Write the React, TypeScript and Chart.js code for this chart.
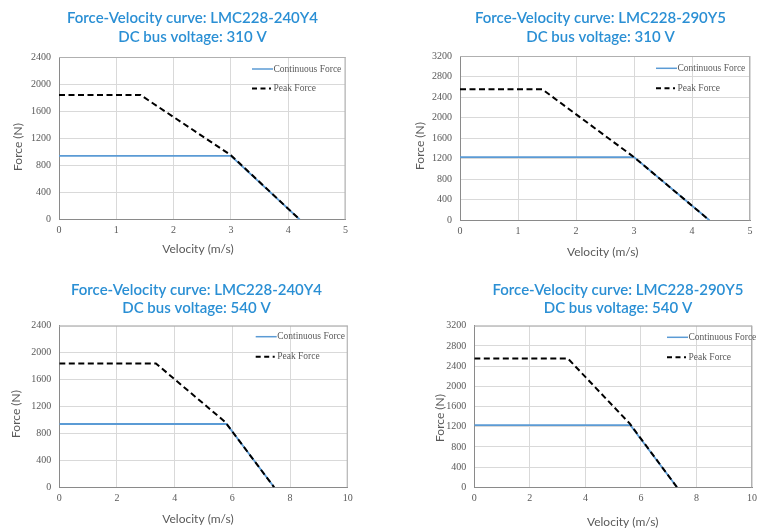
import React, { useEffect, useRef } from "react";
import { Chart, registerables } from "chart.js";

Chart.register(...registerables);

// ---------- data ----------
const modelNames = ["LMC228-240Y4", "LMC228-290Y5", "LMC228-240Y4", "LMC228-290Y5"];
const busVoltages = ["310 V", "310 V", "540 V", "540 V"];
const legendLabels = ["Continuous Force", "Peak Force"];
const xAxisLabel = "Velocity (m/s)";
const yAxisLabel = "Force (N)";
const xMaxValues = [5, 5, 10, 10];
const xStepValues = [1, 1, 2, 2];
const yMaxValues = [2400, 3200, 2400, 3200];
const yStepValue = 400;

const contVel1 = [0, 3, 4.2];
const contForce1 = [940, 940, 0];
const peakVel1 = [0, 1.42, 3, 4.2];
const peakForce1 = [1840, 1840, 950, 0];

const contVel2 = [0, 3, 4.3];
const contForce2 = [1230, 1230, 0];
const peakVel2 = [0, 1.42, 3, 4.3];
const peakForce2 = [2550, 2550, 1230, 0];

const contVel3 = [0, 5.8, 7.45];
const contForce3 = [940, 940, 0];
const peakVel3 = [0, 3.35, 5.75, 7.45];
const peakForce3 = [1840, 1840, 970, 0];

const contVel4 = [0, 5.62, 7.3];
const contForce4 = [1230, 1230, 0];
const peakVel4 = [0, 3.37, 5.6, 7.3];
const peakForce4 = [2550, 2550, 1260, 0];

const contVels = [contVel1, contVel2, contVel3, contVel4];
const contForces = [contForce1, contForce2, contForce3, contForce4];
const peakVels = [peakVel1, peakVel2, peakVel3, peakVel4];
const peakForces = [peakForce1, peakForce2, peakForce3, peakForce4];

// ---------- layout (page coordinates) ----------
const panels = [
  { box: [0, 0, 381, 265], area: [59, 57, 345.5, 219.5], title: [192.5, 18.3, 36.7], xT: [198, 249], yT: [18, 147], leg: [252, 69, 88.5] },
  { box: [381, 0, 381, 265], area: [460, 56, 750, 220.3], title: [600.5, 18.3, 36.7], xT: [602.7, 251.7], yT: [420.3, 146], leg: [656, 68.3, 88.3] },
  { box: [0, 265, 381, 264], area: [59.3, 325.7, 347.7, 487.3], title: [196.5, 290, 308.3], xT: [198, 519], yT: [16, 414], leg: [255.7, 336.7, 356.7] },
  { box: [381, 265, 381, 264], area: [474.3, 325.7, 756, 487.3], title: [618, 290, 308.3], xT: [622.7, 522.3], yT: [440.3, 418], leg: [667, 337.3, 357.3] },
];

const TITLE_COLOR = "#2a8fd4";
const TEXT_GRAY = "#595959";
const CONT_COLOR = "#5b9bd5";
const GRID_COLOR = "#d9d9d9";

function toPoints(xs: number[], ys: number[]) {
  return xs.map((x, i) => ({ x, y: ys[i] }));
}

function FVChart({ idx }: { idx: number }) {
  const ref = useRef<HTMLCanvasElement | null>(null);
  const p = panels[idx];
  const [bx, by, bw, bh] = p.box;
  const [al, at, ar, ab] = p.area;

  useEffect(() => {
    if (!ref.current) return;
    const textPlugin = {
      id: "fvText" + idx,
      beforeDatasetsDraw(chart: any) {
        const { ctx, chartArea } = chart;
        ctx.save();
        ctx.strokeStyle = "#b0b0b0";
        ctx.lineWidth = 1;
        ctx.beginPath();
        ctx.moveTo(chartArea.left, chartArea.top + 0.5);
        ctx.lineTo(chartArea.right, chartArea.top + 0.5);
        ctx.moveTo(chartArea.right - 0.5, chartArea.top);
        ctx.lineTo(chartArea.right - 0.5, chartArea.bottom);
        ctx.stroke();
        ctx.restore();
      },
      afterDraw(chart: any) {
        const { ctx } = chart;
        ctx.save();
        // chart title
        ctx.fillStyle = TITLE_COLOR;
        ctx.font = "600 15px Lato";
        ctx.textAlign = "center";
        ctx.textBaseline = "middle";
        ctx.fillText("Force-Velocity curve: " + modelNames[idx], p.title[0] - bx, p.title[1] - by);
        ctx.fillText("DC bus voltage: " + busVoltages[idx], p.title[0] - bx, p.title[2] - by);
        // axis titles
        ctx.fillStyle = TEXT_GRAY;
        ctx.font = "12px Lato";
        ctx.fillText(xAxisLabel, p.xT[0] - bx, p.xT[1] - by);
        ctx.save();
        ctx.translate(p.yT[0] - bx, p.yT[1] - by);
        ctx.rotate(-Math.PI / 2);
        ctx.fillText(yAxisLabel, 0, 0);
        ctx.restore();
        // legend
        const lx = p.leg[0] - bx;
        const ly1 = p.leg[1] - by;
        const ly2 = p.leg[2] - by;
        ctx.lineWidth = 1.5;
        ctx.strokeStyle = CONT_COLOR;
        ctx.beginPath();
        ctx.moveTo(lx, ly1);
        ctx.lineTo(lx + 21, ly1);
        ctx.stroke();
        ctx.strokeStyle = "#000";
        ctx.lineWidth = 2;
        ctx.setLineDash([5, 3.5]);
        ctx.beginPath();
        ctx.moveTo(lx, ly2);
        ctx.lineTo(lx + 19, ly2);
        ctx.stroke();
        ctx.setLineDash([]);
        ctx.fillStyle = TEXT_GRAY;
        ctx.font = "9.5px 'Liberation Serif'";
        ctx.textAlign = "left";
        ctx.fillText(legendLabels[0], lx + 21.5, ly1);
        ctx.fillText(legendLabels[1], lx + 21.5, ly2);
        ctx.restore();
      },
    };

    const tickFmt = (v: any) => String(v);

    const chart = new Chart(ref.current, {
      type: "scatter",
      data: {
        datasets: [
          {
            label: legendLabels[1],
            data: toPoints(peakVels[idx], peakForces[idx]),
            showLine: true,
            borderColor: "#000000",
            borderWidth: 2,
            borderDash: [6, 3.5],
            pointRadius: 0,
            fill: false,
            order: 0,
          },
          {
            label: legendLabels[0],
            data: toPoints(contVels[idx], contForces[idx]),
            showLine: true,
            borderColor: CONT_COLOR,
            borderWidth: 1.8,
            pointRadius: 0,
            fill: false,
            order: 1,
          },
        ],
      },
      options: {
        responsive: false,
        animation: false,
        devicePixelRatio: 1,
        layout: { padding: { left: 0, top: at - by, right: bx + bw - ar, bottom: 0 } },
        plugins: { legend: { display: false }, title: { display: false }, tooltip: { enabled: false } },
        scales: {
          x: {
            type: "linear",
            min: 0,
            max: xMaxValues[idx],
            ticks: { stepSize: xStepValues[idx], padding: 5, color: TEXT_GRAY, font: { family: "'Liberation Serif'", size: 10 }, callback: tickFmt },
            grid: { color: GRID_COLOR, drawTicks: false },
            border: { color: "#8a8a8a", width: 1 },
            afterFit(scale: any) {
              scale.height = by + bh - ab;
            },
          },
          y: {
            type: "linear",
            min: 0,
            max: yMaxValues[idx],
            ticks: { stepSize: yStepValue, padding: 8, color: TEXT_GRAY, font: { family: "'Liberation Serif'", size: 10 }, callback: tickFmt },
            grid: { color: GRID_COLOR, drawTicks: false },
            border: { color: "#8a8a8a", width: 1 },
            afterFit(scale: any) {
              scale.width = al - bx;
            },
          },
        },
      },
      plugins: [textPlugin],
    } as any);
    return () => chart.destroy();
  }, [idx]);

  return (
    <canvas
      ref={ref}
      width={bw}
      height={bh}
      style={{ position: "absolute", left: bx, top: by, width: bw, height: bh }}
    />
  );
}

export default function App() {
  return (
    <div style={{ position: "absolute", left: 0, top: 0, width: 762, height: 529, background: "#fff", overflow: "hidden" }}>
      {[0, 1, 2, 3].map((i) => (
        <FVChart key={i} idx={i} />
      ))}
    </div>
  );
}
